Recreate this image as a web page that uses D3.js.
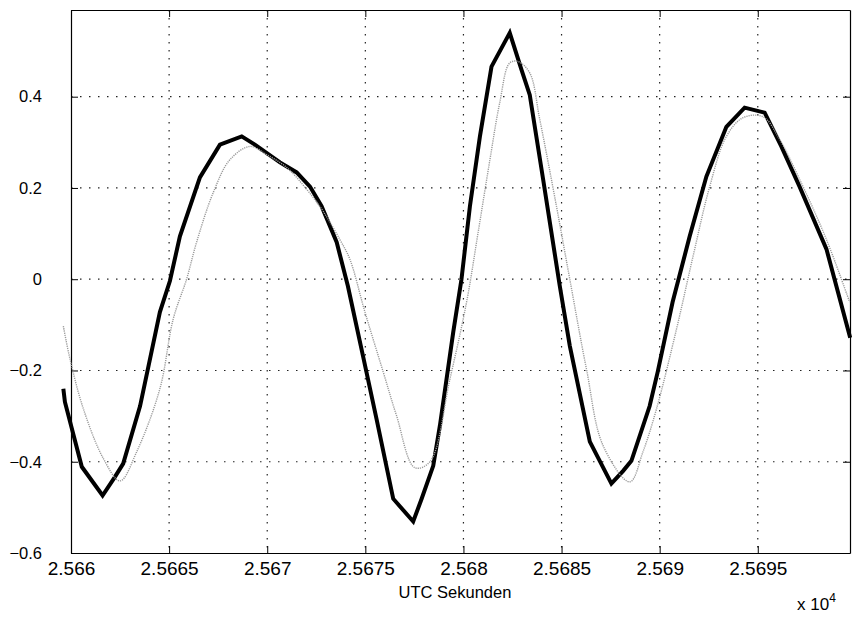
<!DOCTYPE html>
<html>
<head>
<meta charset="utf-8">
<script src="https://cdn.jsdelivr.net/npm/d3@7"></script>
<style>
  body { margin: 0; background: #fff; }
  text { font-family: "Liberation Sans", Arial, Helvetica, sans-serif; fill: #000; }
</style>
</head>
<body>
<div class="canvas"></div>
<script>
'use strict';
// measured series (UTC seconds, value)
var timeMeas = [25659.61, 25659.69, 25660.55, 25661.61, 25662.24, 25662.66, 25663.52, 25664.53, 25665.04, 25665.55,
    25666.57, 25667.59, 25668.70, 25669.37, 25670.65, 25671.50, 25672.18, 25672.77, 25673.54, 25674.11,
    25674.88, 25675.57, 25676.42, 25677.44, 25677.87, 25678.46, 25678.80, 25679.48, 25679.90, 25680.33,
    25680.84, 25681.43, 25682.36, 25682.96, 25683.38, 25684.06, 25684.91, 25685.42, 25686.44, 25687.54,
    25688.14, 25688.56, 25689.49, 25689.90, 25690.66, 25691.53, 25692.38, 25693.40, 25694.33, 25695.35,
    25696.20, 25697.13, 25698.50, 25699.71];
var valueMeas = [-0.240, -0.269, -0.411, -0.474, -0.433, -0.404, -0.278, -0.072, -0.004, 0.094,
    0.223, 0.295, 0.313, 0.295, 0.256, 0.234, 0.203, 0.160, 0.081, -0.015,
    -0.168, -0.306, -0.481, -0.531, -0.481, -0.409, -0.321, -0.116, 0.000, 0.160,
    0.313, 0.466, 0.540, 0.459, 0.404, 0.219, -0.015, -0.146, -0.356, -0.448,
    -0.420, -0.398, -0.278, -0.203, -0.050, 0.094, 0.225, 0.334, 0.376, 0.365,
    0.291, 0.203, 0.066, -0.128];

// model series
var timeModel = [25659.61, 25659.95, 25660.63, 25661.65, 25662.50, 25663.35, 25664.53, 25665.21, 25665.89, 25666.40,
    25667.25, 25668.10, 25669.12, 25669.97, 25670.99, 25672.01, 25672.85, 25673.70, 25674.21, 25674.98,
    25675.91, 25676.59, 25677.52, 25678.29, 25679.31, 25680.16, 25680.75, 25681.35, 25681.85, 25682.36,
    25682.79, 25683.38, 25683.89, 25684.74, 25685.42, 25686.27, 25687.12, 25688.48, 25689.15, 25689.84,
    25690.86, 25691.70, 25692.55, 25693.40, 25694.25, 25695.27, 25696.12, 25697.13, 25698.50, 25699.68];
var valueModel = [-0.103, -0.175, -0.284, -0.393, -0.442, -0.378, -0.240, -0.087, 0.000, 0.081,
    0.190, 0.262, 0.291, 0.273, 0.245, 0.197, 0.149, 0.087, 0.044, -0.072,
    -0.203, -0.299, -0.413, -0.400, -0.219, -0.050, 0.103, 0.262, 0.387, 0.474,
    0.477, 0.452, 0.350, 0.160, 0.000, -0.197, -0.365, -0.444, -0.378, -0.284,
    -0.109, 0.050, 0.203, 0.313, 0.354, 0.356, 0.306, 0.219, 0.087, -0.050];

var xTicks = [25660, 25665, 25670, 25675, 25680, 25685, 25690, 25695];
var yTicks = [-0.6, -0.4, -0.2, 0, 0.2, 0.4];
var xLabel = "UTC Sekunden";

var W = 852, H = 617;
var L = 71, R = 850, T = 10, B = 553;

var xScale = d3.scaleLinear().domain([25660, 25699.7]).range([L, R]);
var yScale = d3.scaleLinear().domain([-0.6, 0.59]).range([B, T]);

var svg = d3.select(".canvas").append("svg")
    .attr("width", W)
    .attr("height", H);

// grid
svg.append("g").selectAll("line").data(xTicks.slice(1)).enter().append("line")
    .attr("x1", d => xScale(d)).attr("x2", d => xScale(d))
    .attr("y1", T).attr("y2", B)
    .attr("stroke", "#222").attr("stroke-width", 1.2)
    .attr("stroke-dasharray", "1.5,6.5");
svg.append("g").selectAll("line").data(yTicks.slice(1)).enter().append("line")
    .attr("x1", L).attr("x2", R)
    .attr("y1", d => yScale(d)).attr("y2", d => yScale(d))
    .attr("stroke", "#222").attr("stroke-width", 1.2)
    .attr("stroke-dasharray", "1.5,7.5");

// axes with inward ticks on all four sides
var fmtX = d => String(+(d / 1e4).toFixed(5));
var fmtY = d => d === 0 ? "0" : d3.format(".1f")(d);

var axBottom = svg.append("g").attr("transform", "translate(0," + B + ")")
    .call(d3.axisBottom(xScale).tickValues(xTicks).tickFormat(fmtX).tickSizeInner(-7).tickSizeOuter(0).tickPadding(9));
var axTop = svg.append("g").attr("transform", "translate(0," + T + ")")
    .call(d3.axisTop(xScale).tickValues(xTicks).tickFormat("").tickSizeInner(-7).tickSizeOuter(0));
var axLeft = svg.append("g").attr("transform", "translate(" + L + ",0)")
    .call(d3.axisLeft(yScale).tickValues(yTicks).tickFormat(fmtY).tickSizeInner(-7).tickSizeOuter(0).tickPadding(29));
var axRight = svg.append("g").attr("transform", "translate(" + R + ",0)")
    .call(d3.axisRight(yScale).tickValues(yTicks).tickFormat("").tickSizeInner(-7).tickSizeOuter(0));

[axBottom, axTop, axLeft, axRight].forEach(g => {
    g.select(".domain").attr("stroke", "#000").attr("stroke-width", 1.2);
    g.selectAll(".tick line").attr("stroke", "#000");
});
axBottom.selectAll("text").attr("font-size", 19).attr("font-family", "Liberation Sans, Arial, sans-serif");
axLeft.selectAll("text").attr("font-size", 16.5).attr("font-family", "Liberation Sans, Arial, sans-serif");

// lines
var model = timeModel.map((t, i) => [t, valueModel[i]]);
var meas = timeMeas.map((t, i) => [t, valueMeas[i]]);

svg.append("path")
    .datum(meas)
    .attr("fill", "none")
    .attr("stroke", "#000")
    .attr("stroke-width", 4)
    .attr("stroke-linejoin", "miter")
    .attr("d", d3.line().x(d => xScale(d[0])).y(d => yScale(d[1])));

svg.append("path")
    .datum(model)
    .attr("fill", "none")
    .attr("stroke", "#9a9a9a")
    .attr("stroke-width", 1.4)
    .attr("stroke-dasharray", "1.2,1")
    .attr("d", d3.line().curve(d3.curveCatmullRom).x(d => xScale(d[0])).y(d => yScale(d[1])));

// labels
svg.append("text")
    .attr("x", 455).attr("y", 598)
    .attr("text-anchor", "middle")
    .attr("font-size", 16.5)
    .text(xLabel);

var mult = svg.append("text")
    .attr("x", 797).attr("y", 610)
    .attr("font-size", 17);
mult.append("tspan").text("x 10");
mult.append("tspan").attr("dy", -8).attr("font-size", 12).text("4");
</script>
</body>
</html>
